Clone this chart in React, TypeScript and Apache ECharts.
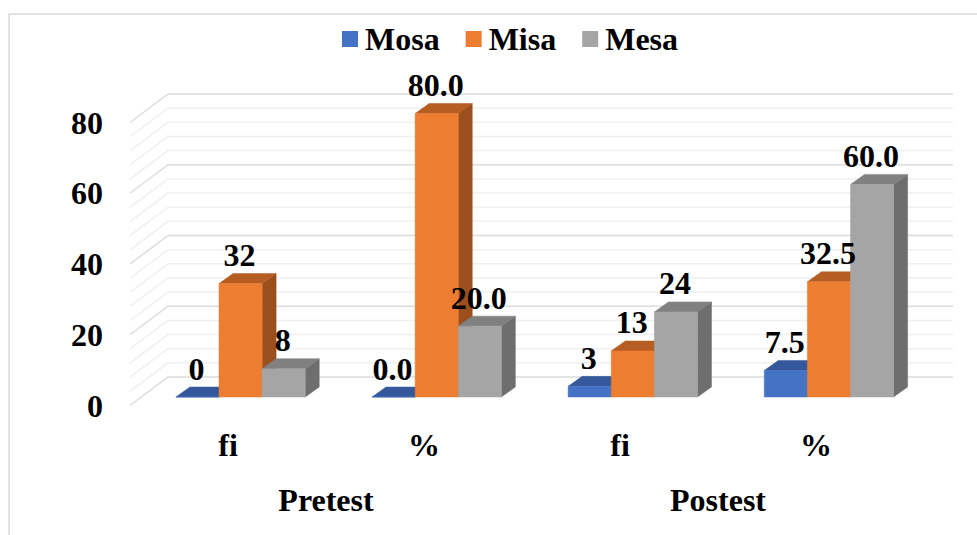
import React, { useEffect, useRef } from "react";
import * as echarts from "echarts";

const categories = ["fi", "%", "fi", "%"];
const groups = ["Pretest", "Postest"];
const seriesNames = ["Mosa", "Misa", "Mesa"];
const mosa = [0, 0, 3, 7.5];
const misa = [32, 80, 13, 32.5];
const mesa = [8, 20, 24, 60];
const mosaLabels = ["0", "0.0", "3", "7.5"];
const misaLabels = ["32", "80.0", "13", "32.5"];
const mesaLabels = ["8", "20.0", "24", "60.0"];
const yTicks = [0, 20, 40, 60, 80];
const gridLevels = [0, 4, 8, 12, 16, 20, 24, 28, 32, 36, 40, 44, 48, 52, 56, 60, 64, 68, 72, 76, 80];

const palette = [
  { front: "#4472C4", top: "#34589B", side: "#2C4A82" },
  { front: "#ED7D31", top: "#B55D23", side: "#9B4F1D" },
  { front: "#A5A5A5", top: "#808080", side: "#6E6E6E" },
];

const FONT = "'Liberation Serif', 'Times New Roman', serif";
const FONT_SIZE = 32;
const BAR_DX = 14;
const BAR_DY = 10;
const WALL_DX = 38;
const WALL_DY = 28.5;

function barSeries(idx: number, values: number[], labels: string[]) {
  const c = palette[idx];
  return {
    type: "custom",
    name: seriesNames[idx],
    coordinateSystem: "cartesian2d",
    xAxisIndex: 0,
    yAxisIndex: 0,
    itemStyle: { color: c.front },
    data: values.map((v, i) => [i, v]),
    encode: { x: 0, y: 1 },
    renderItem: (_p: any, api: any) => {
      const i = api.value(0);
      const v = api.value(1);
      const band = api.size([1, 0])[0];
      const w = band / 4.55;
      const [cx, yTop] = api.coord([i, v]);
      const yBase = api.coord([i, 0])[1];
      const x = cx - 1.5 * w + idx * w;
      const st = (fill: string) => ({ fill, stroke: fill, lineWidth: 0.5 });
      const poly = (points: number[][], fill: string) => ({
        type: "polygon",
        shape: { points },
        style: st(fill),
      });
      const children: any[] = [
        poly(
          [
            [x + w, yTop],
            [x + w + BAR_DX, yTop - BAR_DY],
            [x + w + BAR_DX, yBase - BAR_DY],
            [x + w, yBase],
          ],
          c.side
        ),
        poly(
          [
            [x, yTop],
            [x + BAR_DX, yTop - BAR_DY],
            [x + w + BAR_DX, yTop - BAR_DY],
            [x + w, yTop],
          ],
          c.top
        ),
        { type: "rect", shape: { x, y: yTop, width: w, height: yBase - yTop }, style: st(c.front) },
        {
          type: "text",
          z2: 100,
          style: {
            x: x + w / 2 - 1,
            y: yTop - 28.5,
            text: labels[i],
            fill: "#000",
            font: `bold ${FONT_SIZE}px ${FONT}`,
            align: "center",
            verticalAlign: "middle",
          },
        },
      ];
      return { type: "group", children };
    },
  };
}

const wallSeries = {
  type: "custom",
  name: "wall",
  coordinateSystem: "cartesian2d",
  xAxisIndex: 1,
  yAxisIndex: 1,
  silent: true,
  z: 1,
  data: gridLevels.map((v) => [0, v]),
  encode: { x: 0, y: 1 },
  renderItem: (_p: any, api: any) => {
    const v = api.value(1);
    const band = api.size([1, 0])[0];
    const [cx, y] = api.coord([0, v]);
    const left = cx - band / 2;
    const major = v % 20 === 0;
    return {
      type: "polyline",
      shape: {
        points: [
          [left - WALL_DX, y + WALL_DY],
          [left, y],
          [left + band * categories.length, y],
        ],
      },
      style: {
        fill: "none",
        stroke: major ? "#DCDCDC" : "#F0F0F0",
        lineWidth: 1.5,
      },
    };
  },
};

export default function App() {
  const ref = useRef<HTMLDivElement>(null);
  useEffect(() => {
    const chart = echarts.init(ref.current!, null, { renderer: "svg" });
    const text = { fontFamily: FONT, fontWeight: "bold" as const, fontSize: FONT_SIZE, color: "#000" };
    chart.setOption({
      animation: false,
      backgroundColor: "#fff",
      legend: {
        data: seriesNames,
        left: 337,
        top: 18,
        icon: "rect",
        itemWidth: 16,
        itemHeight: 16,
        itemGap: 26,
        textStyle: { ...text, padding: [0, 0, 0, 2] },
      },
      graphic: [
        {
          type: "polyline",
          shape: { points: [[9, 535], [9, 14], [977, 14]] },
          style: { fill: "none", stroke: "#DADADA", lineWidth: 1.5 },
        },
      ],
      grid: [
        { left: 142.5, width: 784.5, top: 113.5, height: 283.5 },
        { left: 168, width: 785, top: 94, height: 283 },
        { left: 130, width: 784, top: 122.5, height: 283 },
      ],
      xAxis: [
        { type: "category", gridIndex: 0, data: categories, show: false },
        { type: "category", gridIndex: 1, data: categories, show: false },
        {
          type: "category",
          gridIndex: 2,
          data: categories,
          axisLine: { show: false },
          axisTick: { show: false },
          axisLabel: { ...text, margin: 23, interval: 0 },
        },
        {
          type: "category",
          gridIndex: 2,
          position: "bottom",
          offset: 55,
          data: groups,
          axisLine: { show: false },
          axisTick: { show: false },
          axisLabel: { ...text, margin: 23, interval: 0 },
        },
      ],
      yAxis: [
        { type: "value", gridIndex: 0, min: 0, max: 80, interval: 20, show: false },
        { type: "value", gridIndex: 1, min: 0, max: 80, interval: 20, show: false },
        {
          type: "value",
          gridIndex: 2,
          min: 0,
          max: 80,
          interval: 20,
          axisLine: { show: false },
          axisTick: { show: false },
          splitLine: { show: false },
          axisLabel: {
            ...text,
            margin: 27,
            customValues: yTicks,
          },
        },
      ],
      series: [wallSeries, barSeries(0, mosa, mosaLabels), barSeries(1, misa, misaLabels), barSeries(2, mesa, mesaLabels)],
    });
    return () => chart.dispose();
  }, []);
  return <div ref={ref} style={{ position: "absolute", left: 0, top: 0, width: 977, height: 535 }} />;
}
